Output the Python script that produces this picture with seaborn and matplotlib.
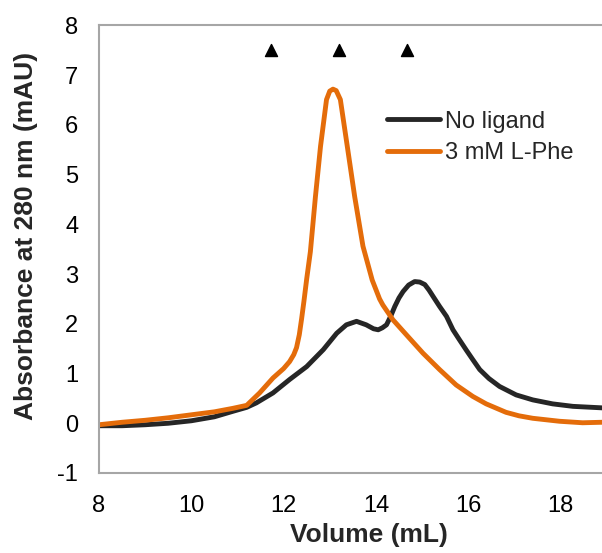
import matplotlib
matplotlib.use("Agg")
import matplotlib.pyplot as plt
import seaborn as sns
import pandas as pd

# Elution volumes (mL) and absorbance (mAU) for each condition
no_ligand_vol = [8.0, 8.5, 9.0, 9.5, 10.0, 10.5, 10.9, 11.2, 11.41, 11.77, 12.13, 12.5,
                 12.86, 13.15, 13.36, 13.58, 13.79, 13.95, 14.05, 14.14, 14.23, 14.32,
                 14.41, 14.5, 14.59, 14.71, 14.84, 14.95, 15.06, 15.15, 15.24, 15.38,
                 15.53, 15.67, 15.81, 15.96, 16.1, 16.25, 16.45, 16.68, 17.04, 17.40,
                 17.83, 18.27, 18.9]
no_ligand_abs = [-0.05, -0.05, -0.03, 0.0, 0.05, 0.13, 0.24, 0.32, 0.41, 0.61, 0.88, 1.14,
                 1.48, 1.81, 1.98, 2.05, 1.98, 1.90, 1.88, 1.92, 1.98, 2.15,
                 2.35, 2.52, 2.65, 2.78, 2.85, 2.84, 2.79, 2.68, 2.55, 2.35,
                 2.15, 1.88, 1.68, 1.47, 1.28, 1.08, 0.90, 0.74, 0.57, 0.47,
                 0.39, 0.34, 0.31]

phe_vol = [8.0, 8.5, 9.0, 9.5, 10.0, 10.5, 10.9, 11.2, 11.48, 11.77, 12.0, 12.13, 12.22,
           12.28, 12.34, 12.39, 12.44, 12.5, 12.58, 12.69, 12.80, 12.93, 13.0, 13.07,
           13.14, 13.23, 13.38, 13.54, 13.72, 13.92, 14.08, 14.15, 14.37, 14.66, 15.02,
           15.38, 15.74, 16.1, 16.39, 16.82, 17.1, 17.40, 17.98, 18.48, 18.9]
phe_abs = [-0.03, 0.02, 0.06, 0.11, 0.17, 0.23, 0.30, 0.36, 0.61, 0.91, 1.10, 1.24, 1.38,
           1.52, 1.78, 2.10, 2.45, 2.90, 3.45, 4.56, 5.57, 6.51, 6.68, 6.72,
           6.69, 6.51, 5.57, 4.56, 3.56, 2.88, 2.50, 2.38, 2.08, 1.78, 1.41,
           1.08, 0.77, 0.54, 0.39, 0.22, 0.15, 0.10, 0.04, 0.01, 0.02]

# Calibration standard positions
marker_vol = [11.72, 13.19, 14.67]
marker_abs = [7.5, 7.5, 7.5]

labels = ["No ligand", "3 mM L-Phe"]
colors = ["#262626", "#E46C0A"]

sns.set_style("white")
plt.rcParams["font.family"] = ["Liberation Sans", "DejaVu Sans"]
plt.rcParams["axes.unicode_minus"] = False
plt.rcParams["lines.solid_joinstyle"] = "round"
plt.rcParams["lines.solid_capstyle"] = "round"

df = pd.concat([
    pd.DataFrame({"Volume": no_ligand_vol, "Absorbance": no_ligand_abs, "Condition": labels[0]}),
    pd.DataFrame({"Volume": phe_vol, "Absorbance": phe_abs, "Condition": labels[1]}),
], ignore_index=True)

fig = plt.figure(figsize=(6.02, 5.53), dpi=100)
ax = fig.add_axes([0.1645, 0.1447, 0.8355, 0.8092])

sns.lineplot(data=df, x="Volume", y="Absorbance", hue="Condition",
             palette=dict(zip(labels, colors)), linewidth=3.5, ax=ax, sort=False)
ax.scatter(marker_vol, marker_abs, marker="^", s=75, color="black", zorder=5)

ax.set_xlim(8, 18.9)
ax.set_ylim(-1, 8)
ax.set_xticks([8, 10, 12, 14, 16, 18])
ax.set_yticks(range(-1, 9))

spine_color = "#A6A6A6"
for side in ["left", "bottom", "top"]:
    ax.spines[side].set_color(spine_color)
    ax.spines[side].set_linewidth(1.5)
ax.spines["right"].set_visible(False)

ax.tick_params(axis="both", direction="in", length=5, width=1.5, color=spine_color,
               labelsize=17, labelcolor="black")
ax.tick_params(axis="y", pad=15)
ax.tick_params(axis="x", pad=16)

ax.set_xlabel("Volume (mL)", fontsize=19, fontweight="bold")
ax.set_ylabel("Absorbance at 280 nm (mAU)", fontsize=19, fontweight="bold")
ax.xaxis.set_label_coords(0.537, -0.112)
ax.yaxis.set_label_coords(-0.122, 0.53)

leg = ax.legend(loc="upper left", bbox_to_anchor=(0.572, 0.81), frameon=False,
                fontsize=17, handlelength=2.25, handletextpad=0.2, labelspacing=0.4,
                borderpad=0, borderaxespad=0, title=None)
for line in leg.get_lines():
    line.set_linewidth(3.5)

fig.savefig("out.png", dpi=100)
